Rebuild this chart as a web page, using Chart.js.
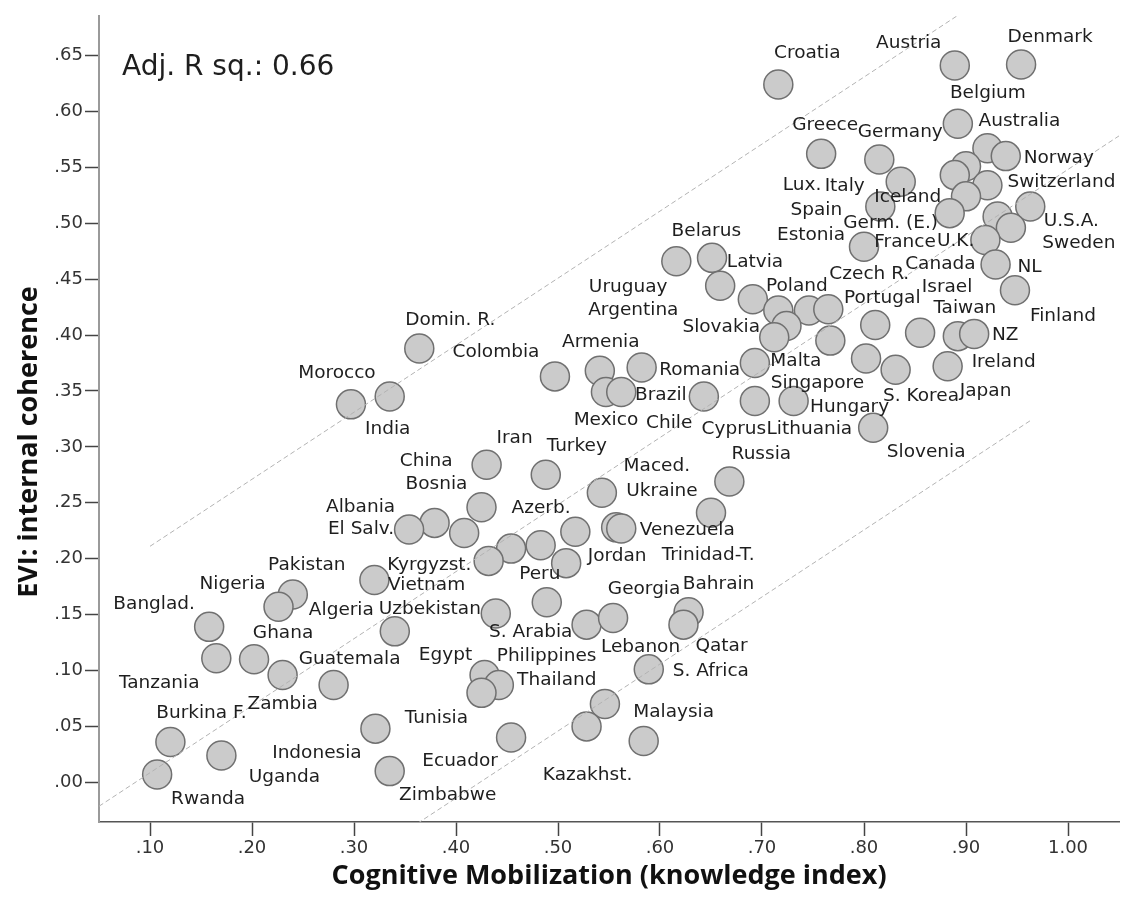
<!DOCTYPE html>
<html>
<head>
<meta charset="utf-8">
<title>EVI internal coherence by cognitive mobilization</title>
<script src="https://cdn.jsdelivr.net/npm/chart.js@4.4.1/dist/chart.umd.min.js"></script>
<style>
    html, body { margin: 0; padding: 0; background: #fff; }
    canvas { display: block; }
</style>
</head>
<body>
<canvas id="chart" width="1135" height="905"></canvas>
<script>
// ==== Data ====
// '' = circle with no visible label in the source picture
const countries = [
    'Croatia', 'Austria', 'Denmark', 'Belgium', 'Australia', 'Norway', 'Greece', 'Germany', 'Italy', 'Lux.',
    'Iceland', 'Switzerland', 'France', 'Germ. (E.)', 'U.K.', 'U.S.A.', 'Sweden', 'Canada', 'NL', 'Finland',
    'Spain', 'Estonia',
    'Belarus', 'Latvia', 'Uruguay', 'Poland', 'Argentina', '', 'Czech R.', 'Singapore', 'Slovakia', 'Lithuania',
    'Portugal', 'Israel', 'Taiwan', 'NZ', 'S. Korea', 'Japan', 'Ireland', 'Hungary', 'Slovenia', 'Malta',
    'Cyprus', 'Brazil', 'Armenia', 'Romania', 'Mexico', 'Chile', 'Colombia',
    'Domin. R.', 'Morocco', 'India', 'Iran', 'Turkey', 'Maced.', 'Russia', 'Ukraine', 'Bosnia', 'Albania',
    'El Salv.', 'China', 'Algeria', 'Trinidad-T.', 'Venezuela', 'Azerb.', '', 'Jordan', 'Vietnam', 'Peru',
    'S. Arabia', 'Lebanon', 'Georgia', 'Bahrain', 'Qatar', 'S. Africa', 'Philippines', 'Thailand', 'Egypt', 'Indonesia',
    'Kyrgyzst.', 'Uzbekistan', 'Ecuador', 'Kazakhst.', 'Malaysia', 'Pakistan', 'Nigeria', 'Banglad.', 'Tanzania', 'Ghana',
    'Zambia', 'Guatemala', 'Burkina F.', 'Uganda', 'Rwanda', 'Tunisia', 'Zimbabwe'
];

// Cognitive Mobilization (knowledge index)
const knowledge = [
    0.716, 0.889, 0.954, 0.892, 0.921, 0.939, 0.758, 0.815, 0.836, 0.900,
    0.889, 0.921, 0.900, 0.884, 0.931, 0.963, 0.944, 0.919, 0.929, 0.948,
    0.816, 0.800,
    0.616, 0.651, 0.659, 0.691, 0.716, 0.746, 0.765, 0.724, 0.712, 0.767,
    0.811, 0.855, 0.892, 0.908, 0.802, 0.831, 0.882, 0.731, 0.809, 0.693,
    0.693, 0.643, 0.541, 0.582, 0.547, 0.562, 0.497,
    0.364, 0.297, 0.335, 0.430, 0.488, 0.543, 0.668, 0.650, 0.425, 0.379,
    0.354, 0.408, 0.517, 0.557, 0.562, 0.454, 0.483, 0.508, 0.432, 0.489,
    0.439, 0.528, 0.554, 0.628, 0.623, 0.589, 0.428, 0.442, 0.425, 0.546,
    0.320, 0.340, 0.454, 0.528, 0.584, 0.240, 0.226, 0.158, 0.165, 0.202,
    0.230, 0.280, 0.120, 0.170, 0.107, 0.321, 0.335
];

// EVI: internal coherence
const coherence = [
    0.624, 0.641, 0.642, 0.589, 0.567, 0.560, 0.562, 0.557, 0.537, 0.551,
    0.543, 0.534, 0.524, 0.509, 0.506, 0.515, 0.496, 0.485, 0.463, 0.440,
    0.515, 0.479,
    0.466, 0.469, 0.444, 0.432, 0.422, 0.422, 0.423, 0.408, 0.398, 0.395,
    0.409, 0.402, 0.399, 0.401, 0.379, 0.369, 0.372, 0.341, 0.317, 0.375,
    0.341, 0.345, 0.368, 0.371, 0.349, 0.349, 0.363,
    0.388, 0.338, 0.345, 0.284, 0.275, 0.259, 0.269, 0.241, 0.246, 0.232,
    0.226, 0.223, 0.224, 0.228, 0.227, 0.209, 0.212, 0.196, 0.198, 0.161,
    0.151, 0.141, 0.147, 0.152, 0.141, 0.101, 0.096, 0.087, 0.080, 0.070,
    0.181, 0.135, 0.040, 0.050, 0.037, 0.168, 0.157, 0.139, 0.111, 0.110,
    0.096, 0.087, 0.036, 0.024, 0.007, 0.048, 0.010
];

const xTicks = [0.10, 0.20, 0.30, 0.40, 0.50, 0.60, 0.70, 0.80, 0.90, 1.00];
const yTicks = [0.00, 0.05, 0.10, 0.15, 0.20, 0.25, 0.30, 0.35, 0.40, 0.45, 0.50, 0.55, 0.60, 0.65];

// Fit line and prediction band
const fitIntercept = -0.0514;
const fitSlope = 0.5995;
const bandHalfWidth = 0.2025;
const adjRSq = 0.66;

// ==== Layout (label offsets from the circle centre, px) ====
const labelDx = [
    29, -46, 29, 30, 32, 53, 4, 21, -56, -164,
    -47, 74, -61, -59, -42, 41, 68, -45, 34, 48,
    -64, -53,
    30, 43, -92, 44, -145, 0, 41, 31, -53, -21,
    7, 27, 7, 31, 55, 90, 56, 56, 53, 41,
    -21, -43, 1, 58, 0, 48, -59,
    31, -14, -2, 28, 31, 55, 32, -49, -45, -74,
    -48, -38, -234, 92, 66, 30, 0, 51, -62, -7,
    35, 54, 31, 30, 38, 62, 62, 58, -36, -288,
    55, 35, -51, 1, 30, 14, -46, -55, -57, 29,
    0, 16, 31, 63, 51, 61, 58
];
const labelDy = [
    -31, -22, -27, -30, -27, 2, -29, -27, 4, 19,
    22, -3, 46, 10, 25, 15, 16, 24, 3, 26,
    4, -11,
    -30, 4, 1, -13, 0, 0, -35, 57, -10, 89,
    -27, -46, -28, 1, 38, 22, -4, 6, 24, -2,
    28, -1, -29, 3, 28, 31, -24,
    -28, -31, 33, -27, -29, -27, -27, -22, -23, -16,
    0, -72, 78, 28, 2, -40, 0, -7, 24, -28,
    19, 23, -29, -28, 22, 2, -19, -5, -38, 49,
    -15, -22, 24, 49, -29, -29, -23, -23, 25, -26,
    29, -26, -29, 22, 25, -10, 24
];

const xMin = 0.05, xMax = 1.05;
const yMin = -0.0355, yMax = 0.6853;

const points = knowledge.map((k, i) => ({ x: k, y: coherence[i] }));
const fitLine = [xMin, xMax].map(x => ({ x, y: fitIntercept + fitSlope * x }));
const bandX = [0.10, 0.963];
const upperBand = bandX.map(x => ({ x, y: fitIntercept + bandHalfWidth + fitSlope * x }));
const lowerBand = bandX.map(x => ({ x, y: fitIntercept - bandHalfWidth + fitSlope * x }));

const fmtTick = (v) => v.toFixed(2).replace(/^0/, '');

const dashed = {
    type: 'line',
    borderColor: '#b3b3b3',
    borderWidth: 1,
    borderDash: [5, 3],
    pointRadius: 0,
    fill: false,
    order: 0
};

// Country names, R-square note and y title
const textLayer = {
    id: 'textLayer',
    afterDatasetsDraw(chart) {
        const ctx = chart.ctx;
        const meta = chart.getDatasetMeta(3);
        ctx.save();
        ctx.fillStyle = '#1e1e1e';
        ctx.textAlign = 'center';
        ctx.textBaseline = 'middle';
        ctx.font = '18.5px "DejaVu Sans"';
        meta.data.forEach((pt, i) => {
            if (!countries[i]) return;
            ctx.fillText(countries[i], pt.x + labelDx[i], pt.y + labelDy[i]);
        });

        ctx.textAlign = 'left';
        ctx.font = '28px "DejaVu Sans"';
        ctx.fillText('Adj. R sq.: ' + adjRSq.toFixed(2), chart.chartArea.left + 23, 68);

        ctx.fillStyle = '#111';
        ctx.font = 'bold 27px "Open Sans"';
        ctx.textAlign = 'center';
        ctx.translate(29, 442);
        ctx.rotate(-Math.PI / 2);
        ctx.fillText('EVI: internal coherence', 0, 0);
        ctx.restore();
    }
};

new Chart(document.getElementById('chart'), {
    type: 'scatter',
    data: {
        datasets: [
            { ...dashed, data: fitLine },
            { ...dashed, data: upperBand },
            { ...dashed, data: lowerBand },
            {
                type: 'scatter',
                data: points,
                backgroundColor: '#cbcbcb',
                borderColor: '#707070',
                borderWidth: 1.5,
                pointRadius: 14.5,
                order: 1
            }
        ]
    },
    options: {
        responsive: false,
        animation: false,
        layout: { padding: { top: 10, right: 2, left: 0, bottom: 0 } },
        plugins: { legend: { display: false }, tooltip: { enabled: false } },
        scales: {
            x: {
                type: 'linear',
                min: xMin,
                max: xMax,
                afterBuildTicks: (scale) => { scale.ticks = xTicks.map(v => ({ value: v })); },
                afterFit: (scale) => { scale.height = 83; },
                ticks: {
                    callback: fmtTick,
                    color: '#333',
                    padding: 2,
                    autoSkip: false,
                    maxRotation: 0,
                    font: { family: 'DejaVu Sans', size: 18 }
                },
                grid: { drawOnChartArea: false, tickLength: 14, tickColor: '#444', tickWidth: 1.5 },
                border: { color: '#555', width: 1.5 },
                title: {
                    display: true,
                    text: 'Cognitive Mobilization (knowledge index)',
                    color: '#111',
                    padding: { top: 0, bottom: 12 },
                    font: { family: 'Open Sans', size: 27, weight: 'bold' }
                }
            },
            y: {
                type: 'linear',
                min: yMin,
                max: yMax,
                afterBuildTicks: (scale) => { scale.ticks = yTicks.map(v => ({ value: v })); },
                afterFit: (scale) => {
                    scale.width = 99;
                    scale.paddingTop = 0;
                    scale.paddingBottom = 0;
                },
                ticks: {
                    callback: fmtTick,
                    color: '#333',
                    padding: 2,
                    autoSkip: false,
                    font: { family: 'DejaVu Sans', size: 18 }
                },
                grid: { drawOnChartArea: false, tickLength: 14, tickColor: '#444', tickWidth: 1.5 },
                border: { color: '#9a9a9a', width: 2 }
            }
        }
    },
    plugins: [textLayer]
});
</script>
</body>
</html>
